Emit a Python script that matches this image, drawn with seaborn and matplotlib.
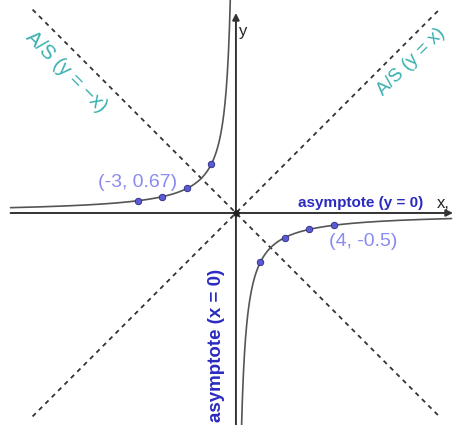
import numpy as np
import pandas as pd
import matplotlib
matplotlib.use("Agg")
import matplotlib.pyplot as plt
import seaborn as sns

# ---- data ----
k = -2.0                      # y = k / x
point_x = [-4, -3, -2, -1, 1, 2, 3, 4]
point_y = [0.5, 0.67, 1, 2, -2, -1, -0.67, -0.5]
left_range = (-9.2, -0.22)
right_range = (0.22, 8.8)
diag_range = (-8.3, 8.3)
label_pt_left = "(-3, 0.67)"
label_pt_right = "(4, -0.5)"
label_hasym = "asymptote (y = 0)"
label_vasym = "asymptote (x = 0)"
label_diag_pos = "A/S (y = x)"
label_diag_neg = "A/S (y = \u2212x)"

sns.set_theme(style="white")
plt.rcParams['font.family'] = ['Liberation Sans', 'DejaVu Sans']

fig = plt.figure(figsize=(4.53, 4.25), dpi=100)
ax = fig.add_axes([0, 0, 1, 1])
ax.set_xlim(-9.63, 8.86)
ax.set_ylim(-8.65, 8.69)
ax.axis("off")

# diagonals
dx = np.array(diag_range)
diag = pd.DataFrame({"x": dx, "y": dx, "ny": -dx})
sns.lineplot(data=diag, x="x", y="y", ax=ax, color="#333333", lw=1.3,
             linestyle=(0, (2.5, 2.5)), zorder=1)
sns.lineplot(data=diag, x="x", y="ny", ax=ax, color="#333333", lw=1.3,
             linestyle=(0, (2.5, 2.5)), zorder=1)

# axes
ax.annotate("", xy=(8.86, 0), xytext=(-9.2, 0),
            arrowprops=dict(arrowstyle="-|>", color="#333333", lw=1.4,
                            mutation_scale=10, shrinkA=0, shrinkB=0), zorder=2)
ax.annotate("", xy=(0, 8.16), xytext=(0, -8.65),
            arrowprops=dict(arrowstyle="-|>", color="#333333", lw=1.4,
                            mutation_scale=10, shrinkA=0, shrinkB=0), zorder=2)

# curve
xl = np.linspace(*left_range, 400)
xr = np.linspace(*right_range, 400)
left = pd.DataFrame({"x": xl, "y": k / xl})
right = pd.DataFrame({"x": xr, "y": k / xr})
sns.lineplot(data=left, x="x", y="y", ax=ax, color="#555555", lw=1.2,
             sort=False, zorder=3)
sns.lineplot(data=right, x="x", y="y", ax=ax, color="#555555", lw=1.2,
             sort=False, zorder=3)

# points
pts = pd.DataFrame({"x": point_x, "y": point_y})
sns.scatterplot(data=pts, x="x", y="y", ax=ax, color="#5a5ad6", s=22,
                edgecolor="#2a2a80", linewidth=0.6, zorder=4)
ax.scatter([0], [0], s=14, color="#222222", zorder=5)

# labels
ax.text(-4.0, 1.25, label_pt_left, color="#8a8af0", fontsize=14,
        ha="center", va="center")
ax.text(5.18, -1.15, label_pt_right, color="#8a8af0", fontsize=14,
        ha="center", va="center")
ax.text(5.1, 0.42, label_hasym, color="#2b2bc0", fontsize=11,
        fontweight="bold", ha="center", va="center")
ax.text(-0.78, -5.39, label_vasym, color="#2b2bc0", fontsize=13.5,
        fontweight="bold", ha="center", va="center", rotation=90)
ax.text(-6.94, 5.76, label_diag_neg, color="#3aafb0", fontsize=14.5,
        ha="center", va="center", rotation=-45, rotation_mode="anchor")
ax.text(7.14, 6.16, label_diag_pos, color="#3aafb0", fontsize=13.5,
        ha="center", va="center", rotation=45, rotation_mode="anchor")
ax.text(8.45, 0.37, "x,", color="#222222", fontsize=12, ha="center", va="center")
ax.text(0.29, 7.39, "y", color="#222222", fontsize=12, ha="center", va="center")

fig.savefig("out.png", dpi=100)
